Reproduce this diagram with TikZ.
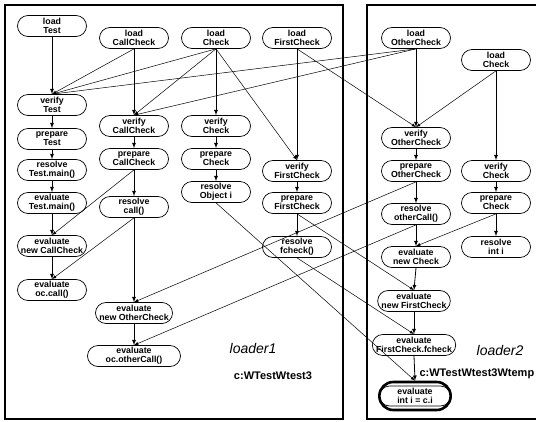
\documentclass[tikz,border=0pt]{standalone}
\usepackage{fontspec}
\setmainfont{Liberation Sans}
\usepackage{tikz}
\usetikzlibrary{shapes,arrows,calc}

\begin{document}
\begin{tikzpicture}[x=1pt,y=-1pt]
  %%Create a style for the boxes and arrows we are using
  \tikzset{task box/.style={rounded rectangle,draw,line width=0.7pt,minimum width=70pt,minimum height=21pt,inner sep=0.5pt,align=center,font=\fontsize{8.8}{8.8}\selectfont\bfseries}}
  \tikzset{normal arrow/.style={draw,-latex,line width=0.8pt}}
  \tikzset{little arrow/.style={draw,-latex,line width=0.5pt}}
  \tikzset{final ring/.style={rounded rectangle,draw,line width=2.6pt,minimum width=78pt,minimum height=28pt}}
  \tikzstyle{frame line} = [draw,line width=1.2pt]
  \tikzstyle{loader title} = [font=\fontsize{14}{14}\selectfont\itshape]
  \tikzstyle{path title} = [font=\fontsize{11}{11}\selectfont\bfseries]
  \useasboundingbox (0,0) rectangle (536,421);
  %%The two loader frames
  \path[frame line] (5,5) rectangle (343,419);
  \path[frame line] (367,5) rectangle (545,419);
  %%Place the steps of each class using the foreach construct
  \foreach \n/\x/\y/\t in {lTest/52/26/{load\\Test},vTest/52/105/{verify\\Test},pTest/52/139/{prepare\\Test},
      rTest/52/170/{resolve\\Test.main()},eTest/52/203/{evaluate\\Test.main()},eNewCC/52/246/{evaluate\\new CallCheck},
      eCall/52/290/{evaluate\\oc.call()}}{
    \node[task box] (\n) at (\x,\y) {\t};
  }
  \foreach \n/\x/\y/\t in {lCC/134/38/{load\\CallCheck},vCC/134/126/{verify\\CallCheck},pCC/134/159/{prepare\\CallCheck},
      rCall/134/207/{resolve\\call()},eNewOC/134/313/{evaluate\\new OtherCheck}}{
    \node[task box] (\n) at (\x,\y) {\t};
  }
  \node[task box,minimum width=94pt] (eOCall) at (134,356) {evaluate\\oc.otherCall()};
  \foreach \n/\x/\y/\t in {lCk/216/38/{load\\Check},vCk/216/126/{verify\\Check},pCk/216/159/{prepare\\Check},
      rObj/216/192/{resolve\\Object i}}{
    \node[task box] (\n) at (\x,\y) {\t};
  }
  \foreach \n/\x/\y/\t in {lFC/297/38/{load\\FirstCheck},vFC/297/171/{verify\\FirstCheck},pFC/297/203/{prepare\\FirstCheck},
      rFC/297/247/{resolve\\fcheck()}}{
    \node[task box] (\n) at (\x,\y) {\t};
  }
  \foreach \n/\x/\y/\t in {lOC/416/38/{load\\OtherCheck},vOC/416/138/{verify\\OtherCheck},pOC/416/171/{prepare\\OtherCheck},
      rOCall/416/214/{resolve\\otherCall()},eNewCk/416/257/{evaluate\\new Check},eNewFC/414/301/{evaluate\\new FirstCheck}}{
    \node[task box] (\n) at (\x,\y) {\t};
  }
  \node[task box,minimum width=75pt] (eFCf) at (414,345) {evaluate\\FirstCheck.fcheck};
  \foreach \n/\x/\y/\t in {lCk2/496/60/{load\\Check},vCk2/496/171/{verify\\Check},pCk2/496/203/{prepare\\Check},
      rInt/496/247/{resolve\\int i}}{
    \node[task box] (\n) at (\x,\y) {\t};
  }
  %%The last step gets a thick ring around it
  \node[task box,minimum width=72pt,minimum height=20pt] (eIntIn) at (415,396) {evaluate\\int i = c.i};
  \node[final ring] (eInt) at (415,396) {};
  %%Loader titles
  \node[loader title] (ld1) at (253,348) {loader1};
  \node[path title] (dir1) at (273,376) {c:WTestWtest3};
  \node[loader title] (ld2) at (500,350) {loader2};
  \node[path title,anchor=west] (dir2) at (416,374) {c:WTestWtest3Wtemp};
  %%Drawing the arrows down each column
  \foreach \a/\b in {lTest/vTest,vTest/pTest,pTest/rTest,rTest/eTest,eTest/eNewCC,eNewCC/eCall,
      lCC/vCC,vCC/pCC,pCC/rCall,rCall/eNewOC,eNewOC/eOCall,
      lCk/vCk,vCk/pCk,pCk/rObj,
      lFC/vFC,vFC/pFC,pFC/rFC,
      lOC/vOC,vOC/pOC,pOC/rOCall,rOCall/eNewCk,eNewCk/eNewFC,eNewFC/eFCf,eFCf/eInt,
      lCk2/vCk2,vCk2/pCk2,pCk2/rInt}
    \path[normal arrow] (\a.south) -- (\b.north);
  %%Drawing the arrows across the columns
  \foreach \a/\b in {lCC/vTest,lCk/vTest,lOC/vTest,lCk/vCC,lOC/vCC,lCk/vFC,lFC/vOC,lCk2/vOC,
      pCC/eNewCC,rCall/eCall,rObj/eInt,pFC/eNewFC,rFC/eFCf,pOC/eNewOC,rOCall/eOCall,pCk2/eNewCk}
    \path[little arrow] (\a.south) -- (\b.north);
\end{tikzpicture}
\end{document}
